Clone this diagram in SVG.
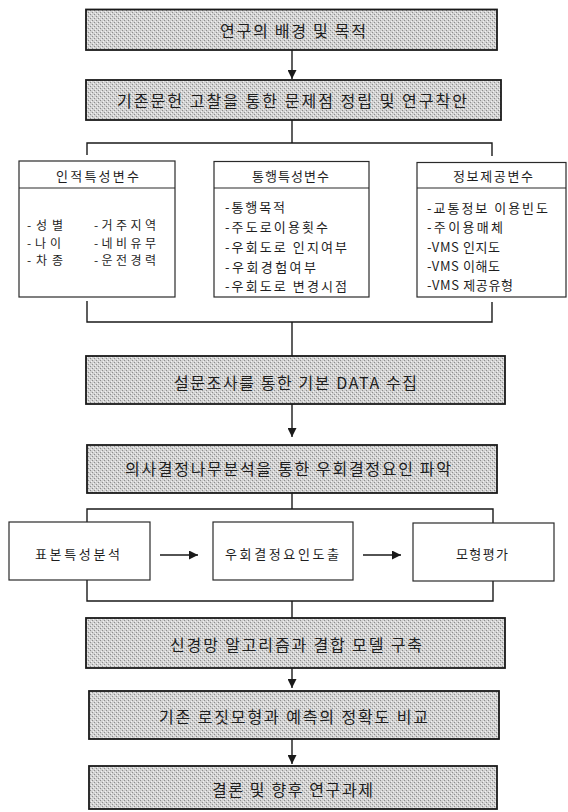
<svg xmlns="http://www.w3.org/2000/svg" width="568" height="812" viewBox="0 0 568 812">
<style>
text{font-family:"Noto Sans CJK KR","Noto Sans",sans-serif;fill:#1e1e1e}
.mt{font-size:16px}
.st{font-size:13px}
.sa{font-size:12px}
.main{fill:url(#dither);stroke:#1a1a1a;stroke-width:1.8}
.sub{fill:#ffffff;stroke:#2a2a2a;stroke-width:1.2}
.ln{fill:none;stroke:#1a1a1a;stroke-width:1.4}
</style>
<defs>
<pattern id="dither" width="4" height="4" patternUnits="userSpaceOnUse">
<rect width="4" height="4" fill="#d2d2d2"/>
<rect x="0" y="0" width="1" height="1" fill="#8e8e8e"/>
<rect x="2" y="2" width="1" height="1" fill="#8e8e8e"/>
<rect x="1" y="3" width="1" height="1" fill="#f2f2f2"/>
<rect x="3" y="1" width="1" height="1" fill="#f2f2f2"/>
</pattern>
<marker id="ah" viewBox="0 0 10 10" refX="10" refY="5" markerWidth="9" markerHeight="9" markerUnits="userSpaceOnUse" orient="auto">
<path d="M0,0 L10,5 L0,10 z" fill="#1a1a1a"/>
</marker>
</defs>

<g id="connectors">
<line class="ln" x1="292" y1="50" x2="292" y2="79" marker-end="url(#ah)"/>
<line class="ln" x1="292" y1="120" x2="292" y2="143"/>
<polyline class="ln" points="87,155 87,143 492,143 492,156"/>
<polyline class="ln" points="87,301 87,322 492,322 492,302"/>
<line class="ln" x1="292" y1="322" x2="292" y2="356"/>
<line class="ln" x1="292" y1="404" x2="292" y2="437" marker-end="url(#ah)"/>
<line class="ln" x1="292" y1="493" x2="292" y2="509"/>
<polyline class="ln" points="87,522 87,509 493,509 493,523"/>
<polyline class="ln" points="87,580 87,601 493,601 493,581"/>
<line class="ln" x1="292" y1="601" x2="292" y2="618"/>
<line class="ln" x1="160" y1="555" x2="198" y2="555" marker-end="url(#ah)"/>
<line class="ln" x1="363" y1="555" x2="401" y2="555" marker-end="url(#ah)"/>
<line class="ln" x1="292" y1="668" x2="292" y2="688" marker-end="url(#ah)"/>
<line class="ln" x1="292" y1="739" x2="292" y2="764" marker-end="url(#ah)"/>
</g>

<g id="n1">
<rect class="main" x="86" y="9.5" width="411" height="40.5"/>
<text class="mt" x="220" y="37" textLength="146" lengthAdjust="spacing">연구의 배경 및 목적</text>
</g>
<g id="n2">
<rect class="main" x="86" y="80" width="415" height="40"/>
<text class="mt" x="117" y="107" textLength="350" lengthAdjust="spacing">기존문헌 고찰을 통한 문제점 정립 및 연구착안</text>
</g>

<g id="nA">
<rect class="sub" x="19" y="161" width="156" height="136"/>
<line class="sub" x1="19" y1="188" x2="175" y2="188"/>
<text class="st" x="56" y="181" textLength="83" lengthAdjust="spacing">인적특성변수</text>
<text class="sa" x="27" y="230" textLength="36" lengthAdjust="spacing">-성별</text>
<text class="sa" x="27" y="247.5" textLength="34" lengthAdjust="spacing">-나이</text>
<text class="sa" x="27" y="265" textLength="36" lengthAdjust="spacing">-차종</text>
<text class="sa" x="94" y="230" textLength="62" lengthAdjust="spacing">-거주지역</text>
<text class="sa" x="94" y="247.5" textLength="62" lengthAdjust="spacing">-네비유무</text>
<text class="sa" x="94" y="265" textLength="62" lengthAdjust="spacing">-운전경력</text>
</g>

<g id="nB">
<rect class="sub" x="214" y="161.5" width="155" height="135.5"/>
<line class="sub" x1="214" y1="188" x2="369" y2="188"/>
<text class="st" x="252" y="181" textLength="77" lengthAdjust="spacing">통행특성변수</text>
<text class="st" x="225" y="212" textLength="60" lengthAdjust="spacing">-통행목적</text>
<text class="st" x="225" y="231.5" textLength="103" lengthAdjust="spacing">-주도로이용횟수</text>
<text class="st" x="225" y="251.5" textLength="122" lengthAdjust="spacing">-우회도로 인지여부</text>
<text class="st" x="225" y="271.5" textLength="91" lengthAdjust="spacing">-우회경험여부</text>
<text class="st" x="225" y="291" textLength="122" lengthAdjust="spacing">-우회도로 변경시점</text>
</g>

<g id="nC">
<rect class="sub" x="417" y="162.5" width="149" height="134.5"/>
<line class="sub" x1="417" y1="188" x2="566" y2="188"/>
<text class="st" x="453" y="181" textLength="80" lengthAdjust="spacing">정보제공변수</text>
<text class="st" x="427" y="213" textLength="121" lengthAdjust="spacing">-교통정보 이용빈도</text>
<text class="st" x="427" y="232" textLength="76" lengthAdjust="spacing">-주이용매체</text>
<text class="st" x="427" y="252" textLength="73" lengthAdjust="spacing">-VMS 인지도</text>
<text class="st" x="427" y="271" textLength="73" lengthAdjust="spacing">-VMS 이해도</text>
<text class="st" x="427" y="290" textLength="86" lengthAdjust="spacing">-VMS 제공유형</text>
</g>

<g id="n3">
<rect class="main" x="86" y="356" width="419" height="48"/>
<text class="mt" x="174" y="389" textLength="243" lengthAdjust="spacing">설문조사를 통한 기본 DATA 수집</text>
</g>
<g id="n4">
<rect class="main" x="87" y="445" width="410" height="48"/>
<text class="mt" x="125" y="475" textLength="326" lengthAdjust="spacing">의사결정나무분석을 통한 우회결정요인 파악</text>
</g>

<g id="nD">
<rect class="sub" x="9" y="522" width="141" height="58"/>
<text class="st" x="35" y="559" textLength="85" lengthAdjust="spacing">표본특성분석</text>
</g>
<g id="nE">
<rect class="sub" x="213" y="522" width="140" height="58"/>
<text class="st" x="225" y="559" textLength="114" lengthAdjust="spacing">우회결정요인도출</text>
</g>
<g id="nF">
<rect class="sub" x="413" y="523" width="141" height="58"/>
<text class="st" x="456" y="559" textLength="52" lengthAdjust="spacing">모형평가</text>
</g>

<g id="n5">
<rect class="main" x="86" y="618" width="419" height="50"/>
<text class="mt" x="170" y="651" textLength="252" lengthAdjust="spacing">신경망 알고리즘과 결합 모델 구축</text>
</g>
<g id="n6">
<rect class="main" x="89" y="691" width="410" height="48"/>
<text class="mt" x="159" y="723" textLength="269" lengthAdjust="spacing">기존 로짓모형과 예측의 정확도 비교</text>
</g>
<g id="n7">
<rect class="main" x="89" y="766" width="408" height="43"/>
<text class="mt" x="212" y="796" textLength="161" lengthAdjust="spacing">결론 및 향후 연구과제</text>
</g>
</svg>
